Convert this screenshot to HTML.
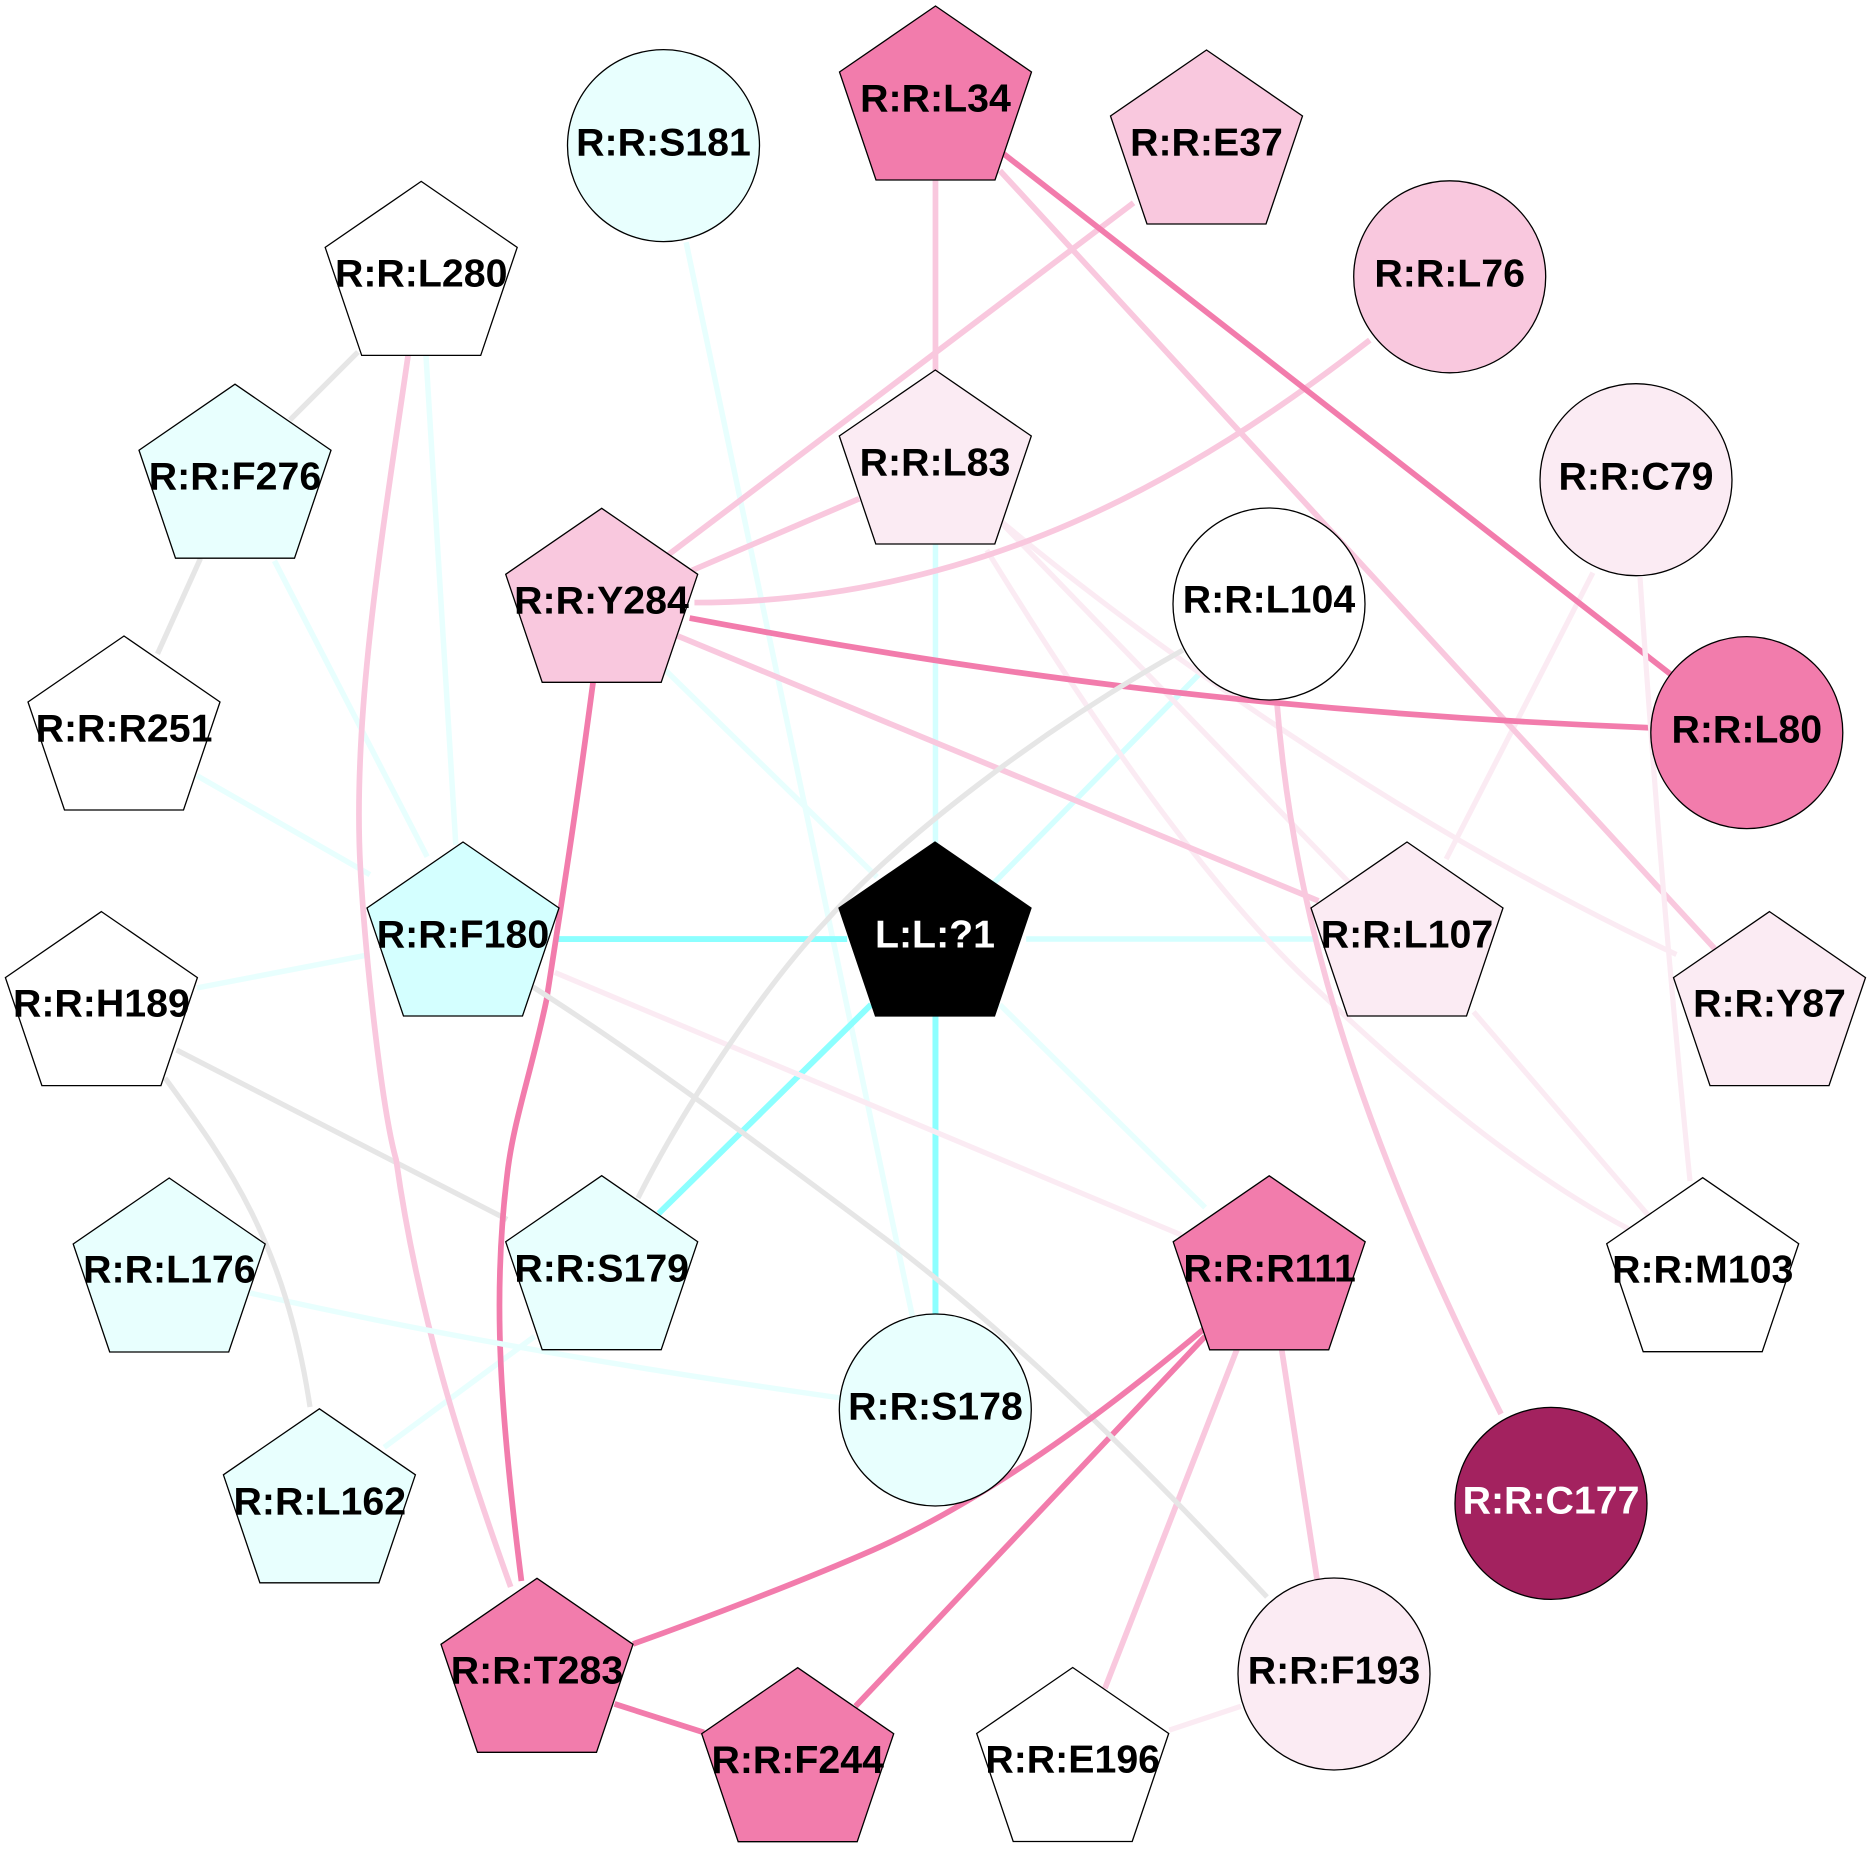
<!DOCTYPE html>
<html><head><meta charset="utf-8"><style>
html,body{margin:0;padding:0;background:#fff}
svg{display:block}
text{font-family:"Liberation Sans",Arial,sans-serif;font-weight:bold;font-size:39.3px;text-anchor:middle;fill:#000}
text.w{fill:#fff}
.n{stroke:#000;stroke-width:1.3}
path{fill:none}
.p{stroke:#f27cac;stroke-width:4.8}
.l{stroke:#f9c8de;stroke-width:4.8}
.v{stroke:#fbebf3;stroke-width:4.4}
.g{stroke:#e6e6e6;stroke-width:4.4}
.c{stroke:#8cffff;stroke-width:5}
.d{stroke:#d4ffff;stroke-width:4.6}
.e{stroke:#e8fffe;stroke-width:4.6}
.px .p{stroke-width:5.7}
.px .l{stroke-width:5.7}
.px .v{stroke-width:5.2}
.px .g{stroke-width:5.2}
.px .e{stroke-width:5.4}
</style></head><body>
<svg width="1871" height="1865" viewBox="0 0 1871 1865" xmlns="http://www.w3.org/2000/svg">
<defs><polygon id="pt" points="0,0 96,66 59.5,174 -59.5,174 -96,66"/></defs>
<rect width="1871" height="1865" fill="#fff"/>
<g transform="scale(1.1932)">
<path class="e" d="M575,203 L765,1105"/>
<path class="e" d="M357,298 L382,708"/>
<path class="e" d="M230,470 L358,718"/>
<path class="e" d="M165,650 L310,733"/>
<path class="e" d="M165,828 L310,800"/>
<path class="e" d="M448,1120 L322,1213"/>
<path class="e" d="M838,842 L1010,1012"/>
<path class="e" d="M556,560 L735,735"/>
<path class="d" d="M784,450 L784,710"/>
<path class="d" d="M1005,565 L833,740"/>
<path class="d" d="M860,787 L1105,787"/>
<path class="c" d="M465,787 L710,787"/>
<path class="c" d="M552,1017 L730,842"/>
<path class="c" d="M784,850 L784,1105"/>
<path class="g" d="M300,295 L243,352"/>
<path class="g" d="M168,468 L132,548"/>
<path class="g" d="M148,880 L425,1022"/>
<path class="v" d="M838,436 C950,530 1170,690 1405,800"/>
<path class="v" d="M841,440 L1131,740"/>
<path class="v" d="M827,461 C900,580 1000,730 1095,821 S1280,985 1365,1030"/>
<path class="v" d="M465,815 L990,1035"/>
<path class="v" d="M1235,848 L1381,1018"/>
<path class="v" d="M1335,480 L1212,720"/>
<path class="v" d="M980,1450 L1040,1430"/>
<path class="l" d="M784,150 L784,312"/>
<path class="l" d="M838,143 L1437,795"/>
<path class="l" d="M950,170 L560,465"/>
<path class="l" d="M1148,285 C1000,400 820,505 582,505"/>
<path class="l" d="M720,418 L580,478"/>
<path class="l" d="M568,533 L1105,755"/>
<path class="l" d="M342,298 C320,450 295,600 302,727 C306,800 320,930 332,972 C350,1100 385,1210 428,1330"/>
<path class="l" d="M1070,587 C1085,780 1145,960 1258,1185"/>
<path class="l" d="M1037,1130 L926,1415"/>
<path class="l" d="M1074,1130 L1104,1325"/>
<path class="p" d="M840,128 L1400,565"/>
<path class="p" d="M578,518 C800,560 1050,597 1385,610"/>
<path class="p" d="M497,572 C480,700 470,760 458,838 C445,900 430,940 425,985 C412,1090 420,1190 437,1325"/>
<path class="p" d="M1010,1120 L717,1430"/>
<path class="p" d="M515,1428 L590,1452"/>
</g>
<g class="px">
<path class="e" d="M250,1293 Q500,1350 841,1398"/>
<path class="v" d="M1640,577 Q1660,880 1690,1181"/>
<path class="g" d="M533,987 C640,1055 760,1145 883,1237 C1000,1325 1120,1440 1267,1597"/>
<path class="g" d="M638,1198 C690,1095 770,980 827,920 C900,838 1040,730 1183,650"/>
<path class="g" d="M165,1078 C225,1160 285,1240 310,1407"/>
<path class="p" d="M1205,1328 C1110,1408 990,1498 873,1550 C800,1582 700,1620 633,1644"/>
</g>
<use href="#pt" class="n" x="935" y="842" fill="#000"/>
<use href="#pt" class="n" x="935.5" y="6" fill="#f27cac"/>
<circle class="n" cx="663.5" cy="145.6" r="96" fill="#e8fffe"/>
<use href="#pt" class="n" x="1206.5" y="50" fill="#f9c8de"/>
<circle class="n" cx="1449.7" cy="276.8" r="96" fill="#f9c8de"/>
<circle class="n" cx="1636" cy="479.7" r="96" fill="#fbebf3"/>
<circle class="n" cx="1746.8" cy="732.6" r="96" fill="#f27cac"/>
<use href="#pt" class="n" x="1769.5" y="911.6" fill="#fbebf3"/>
<use href="#pt" class="n" x="1407" y="842" fill="#fbebf3"/>
<circle class="n" cx="1269" cy="604" r="96" fill="#fff"/>
<use href="#pt" class="n" x="935.3" y="370" fill="#fbebf3"/>
<use href="#pt" class="n" x="601.7" y="508.3" fill="#f9c8de"/>
<use href="#pt" class="n" x="421.2" y="181.4" fill="#fff"/>
<use href="#pt" class="n" x="235" y="384.2" fill="#e8fffe"/>
<use href="#pt" class="n" x="124" y="636" fill="#fff"/>
<use href="#pt" class="n" x="463" y="842" fill="#d4ffff"/>
<use href="#pt" class="n" x="101.4" y="911.6" fill="#fff"/>
<use href="#pt" class="n" x="169.2" y="1178" fill="#e8fffe"/>
<use href="#pt" class="n" x="601.7" y="1175.7" fill="#e8fffe"/>
<use href="#pt" class="n" x="319.4" y="1408.8" fill="#e8fffe"/>
<circle class="n" cx="935.3" cy="1410" r="96" fill="#e8fffe"/>
<use href="#pt" class="n" x="537" y="1578.3" fill="#f27cac"/>
<use href="#pt" class="n" x="797.7" y="1667.7" fill="#f27cac"/>
<use href="#pt" class="n" x="1072.7" y="1667.5" fill="#fff"/>
<circle class="n" cx="1334" cy="1674" r="96" fill="#fbebf3"/>
<circle class="n" cx="1551" cy="1503.4" r="96" fill="#a3225f"/>
<use href="#pt" class="n" x="1269.2" y="1175.8" fill="#f27cac"/>
<use href="#pt" class="n" x="1702.7" y="1177.7" fill="#fff"/>
<g transform="translate(0,-0.6)">
<text class="w" x="935" y="948">L:L:?1</text>
<text x="935.5" y="112">R:R:L34</text>
<text x="663.5" y="156">R:R:S181</text>
<text x="1206.5" y="156">R:R:E37</text>
<text x="1449.7" y="287">R:R:L76</text>
<text x="1636" y="490">R:R:C79</text>
<text x="1746.8" y="743">R:R:L80</text>
<text x="1769.5" y="1017">R:R:Y87</text>
<text x="1407" y="948">R:R:L107</text>
<text x="1269" y="613">R:R:L104</text>
<text x="935" y="476">R:R:L83</text>
<text x="601.5" y="614">R:R:Y284</text>
<text x="421.2" y="287">R:R:L280</text>
<text x="235" y="490">R:R:F276</text>
<text x="124" y="742">R:R:R251</text>
<text x="463" y="948">R:R:F180</text>
<text x="101.4" y="1017">R:R:H189</text>
<text x="169.4" y="1283">R:R:L176</text>
<text x="601.7" y="1282">R:R:S179</text>
<text x="319.8" y="1515">R:R:L162</text>
<text x="935.5" y="1420">R:R:S178</text>
<text x="537" y="1684">R:R:T283</text>
<text x="797.7" y="1773.5">R:R:F244</text>
<text x="1072.7" y="1773">R:R:E196</text>
<text x="1334" y="1684">R:R:F193</text>
<text class="w" x="1551" y="1514">R:R:C177</text>
<text x="1269.6" y="1282">R:R:R111</text>
<text x="1702.7" y="1283">R:R:M103</text>
</g>
</svg>
</body></html>
